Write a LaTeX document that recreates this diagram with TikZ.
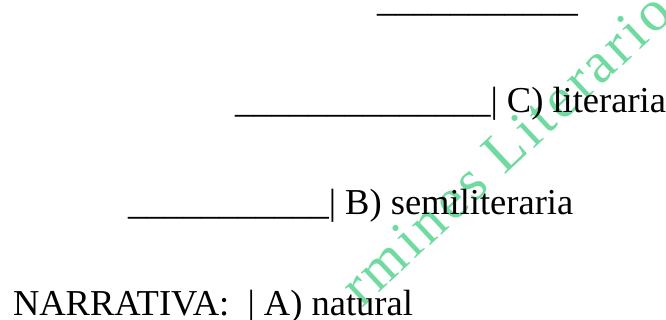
\documentclass[tikz,border=0pt]{standalone}
\usepackage{fontspec}
\setmainfont{Liberation Serif}
\newfontfamily\wmfont[LetterSpace=6.5]{Liberation Serif}
\definecolor{wmgreen}{RGB}{112,218,160}
\tikzset{
  rowtext/.style={anchor=base west, inner sep=0pt, outer sep=0pt, font=\fontsize{36.5}{44}\selectfont, text=black},
  watermark/.style={anchor=base west, inner sep=0pt, rotate=43, font=\wmfont\fontsize{58}{70}\selectfont, text=wmgreen}
}
\begin{document}
\begin{tikzpicture}
\useasboundingbox (0,0) rectangle (666pt,-320pt);
\begin{scope}
\clip (0,0) rectangle (666pt,-320pt);
\node[watermark] (wm) at (362pt,-309pt) {rmines Literario};
\end{scope}
\node[rowtext] (top) at (377pt,-12pt) {\_\_\_\_\_\_\_\_\_\_\_};
\node[rowtext] (c) at (235pt,-113pt) {\_\_\_\_\_\_\_\_\_\_\_\_\_\_| C) literaria};
\node[rowtext] (b) at (128pt,-215pt) {\_\_\_\_\_\_\_\_\_\_\_| B) semiliteraria};
\node[rowtext] (a) at (13pt,-315pt) {NARRATIVA:\ \ | A) natural};
\end{tikzpicture}
\end{document}
